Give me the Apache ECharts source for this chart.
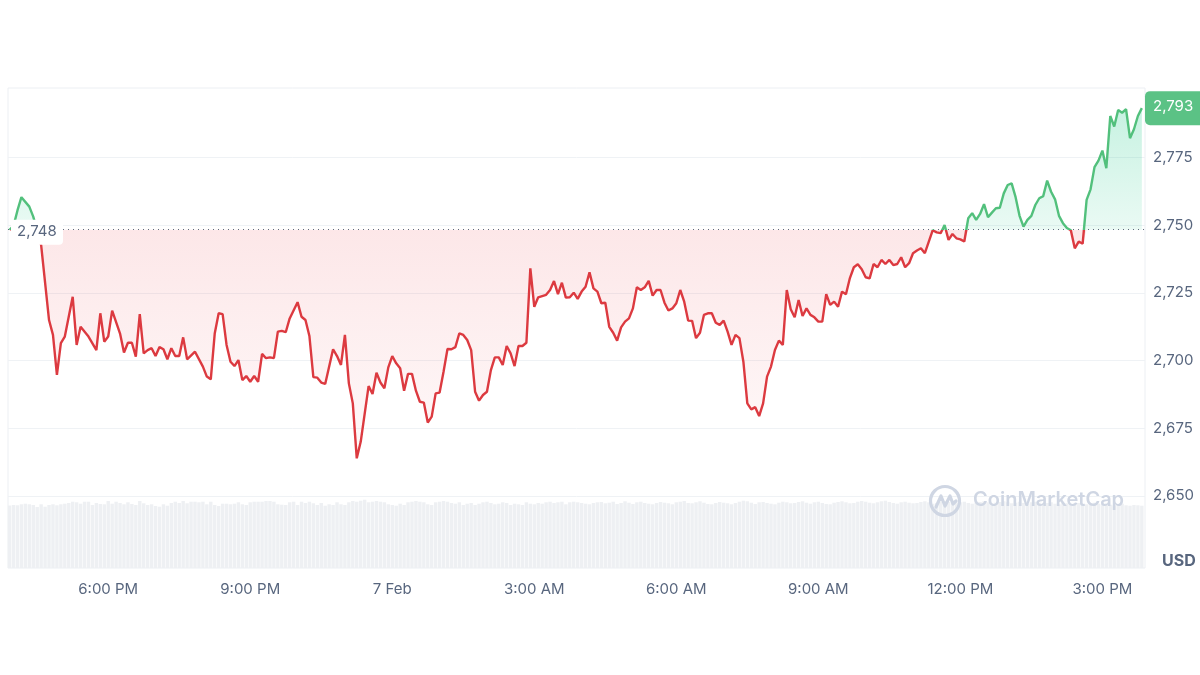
<!DOCTYPE html>
<html>
<head>
<meta charset="utf-8">
<script src="https://cdn.jsdelivr.net/npm/echarts@6/dist/echarts.min.js"></script>
<style>
html,body{margin:0;padding:0;background:#ffffff;}
#chart{width:1200px;height:675px;}
</style>
</head>
<body>
<div id="chart"></div>
<script>
// ---- Data ----
const priceTimes = [
 '15:55','16:00','16:05','16:10','16:20','16:25','16:35','16:45','16:50','16:55',
 '17:00','17:05','17:15','17:20','17:25','17:35','17:45','17:50','17:55',
 '18:00','18:05','18:15','18:20','18:25','18:30','18:35','18:40','18:45','18:50','18:55',
 '19:00','19:05','19:10','19:15','19:20','19:25','19:30','19:35','19:40','19:50',
 '20:00','20:05','20:10','20:15','20:20','20:25','20:30','20:35','20:40','20:45','20:50','20:55',
 '21:00','21:05','21:10','21:15','21:20','21:25','21:30','21:35','21:40','21:45','21:50',
 '22:00','22:05','22:10','22:15','22:20','22:25','22:30','22:35','22:45','22:50','22:55',
 '23:00','23:05','23:10','23:15','23:20','23:30','23:35','23:40','23:45','23:50','23:55',
 '00:00','00:05','00:10','00:15','00:20','00:25','00:30','00:35','00:40','00:45','00:50','00:55',
 '01:00','01:05','01:10','01:15','01:20','01:25','01:30','01:35','01:40','01:45','01:50','01:55',
 '02:00','02:05','02:10','02:15','02:20','02:25','02:30','02:35','02:40','02:45','02:50','02:55',
 '03:00','03:05','03:15','03:20','03:25','03:30','03:35','03:40','03:45','03:50','03:55',
 '04:00','04:05','04:10','04:15','04:20','04:25','04:30','04:35','04:40','04:45','04:50','04:55',
 '05:00','05:05','05:10','05:15','05:20','05:25','05:30','05:35','05:40','05:45','05:50','05:55',
 '06:00','06:05','06:10','06:15','06:20','06:25','06:30','06:35','06:40','06:45','06:50','06:55',
 '07:00','07:05','07:10','07:15','07:20','07:25','07:30','07:35','07:40','07:45','07:50','07:55',
 '08:00','08:05','08:10','08:15','08:20','08:25','08:30','08:35','08:40','08:45','08:50','08:55',
 '09:00','09:05','09:10','09:15','09:20','09:25','09:30','09:35','09:40','09:45','09:50','09:55',
 '10:00','10:05','10:10','10:15','10:20','10:25','10:30','10:35','10:40','10:45','10:50','10:55',
 '11:00','11:05','11:10','11:15','11:20','11:25','11:30','11:35','11:40','11:45','11:50','11:55',
 '12:00','12:05','12:10','12:15','12:20','12:25','12:30','12:35','12:40','12:45','12:50','12:55',
 '13:00','13:05','13:10','13:15','13:20','13:25','13:30','13:35','13:40','13:45','13:50','13:55',
 '14:00','14:05','14:10','14:15','14:20','14:25','14:30','14:35','14:40','14:45','14:50','14:55',
 '15:00','15:05','15:10','15:15','15:20','15:25','15:30','15:35','15:40','15:45','15:50'
];
const prices = [
 2748.3,2749.8,2755.5,2760.4,2756.9,2753.2,2742.7,2715.0,2709.5,2694.7,
 2706.5,2708.9,2723.6,2705.8,2712.5,2708.9,2703.9,2717.5,2707.0,
 2708.9,2718.5,2710.0,2703.0,2706.6,2706.6,2701.5,2717.2,2702.7,2703.9,2704.6,
 2701.7,2705.0,2704.2,2700.5,2704.6,2701.7,2701.7,2708.6,2700.5,2703.3,
 2697.8,2694.1,2693.1,2710.0,2717.5,2717.2,2705.8,2699.6,2698.0,2700.2,2692.8,2694.3,
 2692.2,2694.3,2692.2,2702.5,2700.9,2701.2,2700.9,2710.7,2711.0,2710.5,2715.6,
 2721.6,2716.2,2715.0,2709.1,2693.9,2693.7,2691.9,2691.4,2704.2,2701.7,2698.4,
 2709.5,2691.6,2684.2,2663.9,2670.0,2690.6,2687.7,2695.5,2691.9,2689.8,2697.5,
 2701.7,2699.0,2697.2,2688.9,2695.1,2695.1,2688.9,2684.8,2684.5,2677.1,2679.3,2687.9,
 2688.2,2695.9,2704.3,2704.2,2705.0,2710.1,2709.5,2707.6,2703.9,2688.5,2685.2,2687.3,
 2688.5,2696.5,2701.2,2701.2,2698.4,2705.4,2702.7,2698.0,2705.4,2705.4,2706.6,2734.1,
 2719.9,2723.4,2724.3,2726.1,2729.4,2724.6,2728.8,2723.3,2723.4,2725.1,2722.8,
 2725.5,2727.3,2732.6,2726.7,2725.5,2721.2,2721.4,2712.5,2710.3,2707.4,2712.3,2714.4,
 2715.6,2719.3,2727.1,2726.1,2727.1,2729.5,2724.0,2726.1,2726.1,2721.4,2718.5,2719.3,
 2721.2,2726.1,2721.8,2714.8,2714.7,2708.3,2710.3,2716.9,2717.5,2717.5,2714.0,2713.2,
 2714.8,2710.7,2705.8,2709.5,2708.3,2699.6,2684.2,2682.0,2682.8,2679.5,2684.2,2694.1,
 2697.8,2703.9,2707.4,2705.8,2726.1,2719.0,2716.0,2722.4,2716.5,2719.3,2716.9,2716.0,
 2714.4,2714.4,2724.6,2720.6,2721.8,2719.9,2725.5,2724.5,2730.5,2734.5,2735.6,2733.8,
 2730.8,2730.4,2735.7,2734.5,2737.2,2735.7,2737.2,2735.3,2735.7,2738.2,2734.5,2736.0,
 2739.7,2740.7,2741.5,2739.7,2744.0,2748.2,2747.4,2747.1,2750.1,2744.6,2746.8,2745.2,
 2744.8,2744.0,2752.6,2754.5,2752.0,2754.2,2757.8,2753.0,2754.7,2756.3,2756.5,2761.8,
 2764.9,2765.5,2760.4,2753.5,2749.5,2752.0,2753.5,2757.5,2760.0,2760.8,2766.5,2762.4,
 2759.6,2753.5,2750.8,2749.0,2748.2,2741.5,2744.0,2743.2,2759.4,2763.3,2771.5,2773.9,
 2777.6,2771.1,2790.4,2786.5,2792.6,2791.6,2792.9,2782.2,2785.5,2790.4,2793.3
];
// 5-minute volume bars, 15:55 (6 Feb) -> 15:50 (7 Feb), relative units
const volumes = [
 62.5,63,62.7,63.7,64.3,63.7,63,61,63.7,61.3,63,63.7,
 62.7,63.7,64.3,65,66.3,65.7,64.3,66.3,66.3,63,65,64,
 63.7,67,64.3,66.3,65,63.7,65.7,64,63,67,64.7,63,
 63.7,62,61.3,63.7,62.3,65,66.3,65,67,64.7,66.3,66.3,
 65.7,66.3,63.7,66.3,63,62,64.3,64.3,63.7,64.3,65.7,63.7,
 63,65.7,66.3,66.3,66.3,67,67,66.3,63.7,63.3,63,65.7,
 66.3,63,66.3,65,66.3,64.7,63,65,62.3,63.7,63,65.7,
 63.7,63,65.7,67,66.3,67.3,68.3,65.7,66.3,67,66.3,65.7,
 63.7,63,62.3,64.3,63,65.7,66.3,67,66.3,65.7,63.7,63,
 65.7,66.3,67,66.3,65,64.3,65.7,63,64.3,65,63,64.3,
 65.7,66.3,65,63.7,64.3,65.7,65,63,64.3,63.7,63,65.7,
 64.3,63.7,65,64.3,65.7,66.3,65,65.7,66.3,63.7,65.7,66.3,
 65.7,65,64.3,63.7,65,65.7,66,64.7,65.3,66.3,64,65,
 66.7,65.3,64,65.7,66.3,65,64.3,63.7,65,66,65.3,64.7,
 63.7,65.7,66.3,67,65,64.7,65.7,66.7,65.3,64,63.7,65,
 66,65.3,64.7,63.7,65,66.3,67.3,66.7,65.3,64,65.7,66,
 65,64.3,63.7,65.3,66.3,65.7,64.7,65,66,66.7,65.3,64.3,
 65.7,66.3,65,64,63.7,65.3,66,66.7,65.7,64.7,65,66.3,
 67,66.3,65.3,64.7,65.7,66.7,67.3,66,65,64.3,65.7,66.3,
 65.3,64.7,65,66,66.7,65.7,64.3,65,66.3,67,66,65.3,
 64.7,65.7,66.3,65,64.3,65.3,66,66.7,65.7,64.7,65.3,66,
 66.7,65.7,64.7,65.3,66.3,65,64.3,65.7,66.3,65.3,64.7,65,
 65.7,64.3,63.7,65,64.7,63.7,64.3,65,64,63.7,64.7,65.3,
 64.3,63.7,64.7,63.3,62.7,63.7,64.3,62.7,62.3,63,62.7,62.3
];
const openPrice = 2748.4;            // reference (dotted) line
const priceTicks = [2650, 2675, 2700, 2725, 2750, 2775];
const timeTicks = ['2025-02-06T18:00','2025-02-06T21:00','2025-02-07T00:00','2025-02-07T03:00',
                   '2025-02-07T06:00','2025-02-07T09:00','2025-02-07T12:00','2025-02-07T15:00'];
const viewStart = '2025-02-06T15:53';
const viewEnd = '2025-02-07T15:54';
const volumeStart = '2025-02-06T15:55';

// ---- Build series data ----
const RED = '#dc3a40', GREEN = '#52c07c', TEXT = '#58667e';
let day = '2025-02-06', prev = '';
const priceData = priceTimes.map((t, i) => {
  if (prev && t < prev) day = '2025-02-07';
  prev = t;
  return [new Date(day + 'T' + t).getTime(), prices[i]];
});
const volT0 = new Date(volumeStart).getTime();
const volumeData = volumes.map((v, i) => [volT0 + i * 5 * 60000, v]);
const upperData = priceData.map(p => [p[0], Math.max(p[1], openPrice)]);
const lowerData = priceData.map(p => [p[0], Math.min(p[1], openPrice)]);
const xMin = new Date(viewStart).getTime(), xMax = new Date(viewEnd).getTime();
const tickValues = timeTicks.map(s => new Date(s).getTime());
const fmt = v => Math.round(v).toLocaleString('en-US');

function fmtTime(v) {
  const d = new Date(v), h = d.getHours();
  if (h === 0) return d.getDate() + ' Feb';
  const h12 = h % 12 === 0 ? 12 : h % 12;
  return h12 + ':00 ' + (h < 12 ? 'AM' : 'PM');
}

const chart = echarts.init(document.getElementById('chart'), null, {renderer: 'canvas'});
const FONT = 'Inter, "Noto Sans", sans-serif';

chart.setOption({
  animation: false,
  backgroundColor: '#ffffff',
  textStyle: {fontFamily: FONT},
  grid: [
    {left: 8, right: 55, top: 90, bottom: 111.4, outerBoundsMode: 'none'},
    {left: 8, right: 55, top: 88, bottom: 107, show: true, borderColor: '#eceff3', borderWidth: 1,
     backgroundColor: 'transparent', outerBoundsMode: 'none'}
  ],
  xAxis: [
    {type: 'value', gridIndex: 0, min: xMin, max: xMax, show: false},
    {type: 'value', gridIndex: 1, min: xMin, max: xMax,
     axisLine: {show: false}, axisTick: {show: false}, splitLine: {show: false},
     axisLabel: {customValues: tickValues, formatter: fmtTime, color: TEXT, fontSize: 15,
                 margin: 14, fontFamily: FONT, showMinLabel: true, showMaxLabel: true}}
  ],
  yAxis: [
    {type: 'value', gridIndex: 0, position: 'right', min: 2625, max: 2800, interval: 25,
     axisLine: {show: false}, axisTick: {show: false},
     splitLine: {show: true, showMinLine: false, showMaxLine: false, lineStyle: {color: '#eff2f5', width: 1}},
     axisLabel: {color: TEXT, fontSize: 15, margin: 8, fontFamily: FONT,
                 formatter: v => priceTicks.indexOf(v) >= 0 ? fmt(v) : ''}},
    {type: 'value', gridIndex: 1, min: 0, max: 480, show: false}
  ],
  visualMap: {
    show: false, type: 'piecewise', seriesIndex: 0, dimension: 1,
    pieces: [{gte: 2000, lt: openPrice, color: RED}, {gte: openPrice, lte: 3500, color: GREEN}]
  },
  series: [
    {
      name: 'Price', type: 'line', xAxisIndex: 0, yAxisIndex: 0, data: priceData,
      symbol: 'none', lineStyle: {width: 2.4}, z: 6, silent: true,
      markLine: {
        silent: true, symbol: 'none', label: {show: false},
        lineStyle: {type: [1, 4], color: '#5f6b7c', width: 1},
        data: [{yAxis: openPrice}]
      }
    },
    {
      name: 'Up', type: 'line', xAxisIndex: 0, yAxisIndex: 0, data: upperData,
      symbol: 'none', lineStyle: {opacity: 0, width: 0}, silent: true, z: 3,
      areaStyle: {origin: openPrice, opacity: 1, color: {type: 'linear', x: 0, y: 0, x2: 0, y2: 1,
        colorStops: [{offset: 0, color: 'rgba(22,199,132,0.24)'}, {offset: 1, color: 'rgba(22,199,132,0.09)'}]}}
    },
    {
      name: 'Down', type: 'line', xAxisIndex: 0, yAxisIndex: 0, data: lowerData,
      symbol: 'none', lineStyle: {opacity: 0, width: 0}, silent: true, z: 3,
      areaStyle: {origin: openPrice, opacity: 1, color: {type: 'linear', x: 0, y: 0, x2: 0, y2: 1,
        colorStops: [{offset: 0, color: 'rgba(234,57,67,0.12)'}, {offset: 1, color: 'rgba(234,57,67,0.03)'}]}}
    },
    {
      name: 'Volume', type: 'bar', xAxisIndex: 1, yAxisIndex: 1, data: volumeData,
      barWidth: 3.4, itemStyle: {color: '#eef0f3'}, silent: true, z: 1
    }
  ]
});

// ---- Labels positioned through the axes ----
const yOpen = chart.convertToPixel({yAxisIndex: 0}, openPrice);
const lastVal = prices[prices.length - 1];
const yLast = chart.convertToPixel({yAxisIndex: 0}, lastVal);

chart.setOption({
  graphic: [
    {type: 'rect', left: 11, top: yOpen - 10, z: 20,
     shape: {width: 52, height: 25, r: 4}, style: {fill: '#ffffff'}},
    {type: 'text', left: 17, top: yOpen - 6, z: 21,
     style: {text: fmt(openPrice), fill: TEXT, font: '15px ' + FONT}},
    {type: 'rect', left: 1145, top: yLast - 17, z: 20,
     shape: {width: 62, height: 34, r: 5}, style: {fill: '#5bc285'}},
    {type: 'text', left: 1153, top: yLast - 9, z: 21,
     style: {text: fmt(lastVal), fill: '#ffffff', font: '15px ' + FONT}},
    {type: 'text', left: 1162, top: 553, z: 21,
     style: {text: 'USD', fill: TEXT, font: 'bold 16px ' + FONT}},
    {type: 'group', left: 928, top: 484, z: 50, silent: true, children: [
      {type: 'circle', z: 50, shape: {cx: 16, cy: 16, r: 14.5},
       style: {fill: 'none', stroke: '#cfd6e3', lineWidth: 3.2}},
      {type: 'polyline', z: 50, shape: {points: [[7, 22], [12, 11], [16, 21], [21, 11], [24, 19], [27, 16]]},
       style: {fill: 'none', stroke: '#cfd6e3', lineWidth: 3.2, lineJoin: 'round', lineCap: 'round'}},
      {type: 'text', z: 50, x: 44, y: 5, style: {text: 'CoinMarketCap', fill: '#cfd6e3', font: '600 20px ' + FONT}}
    ]}
  ]
});
</script>
</body>
</html>
